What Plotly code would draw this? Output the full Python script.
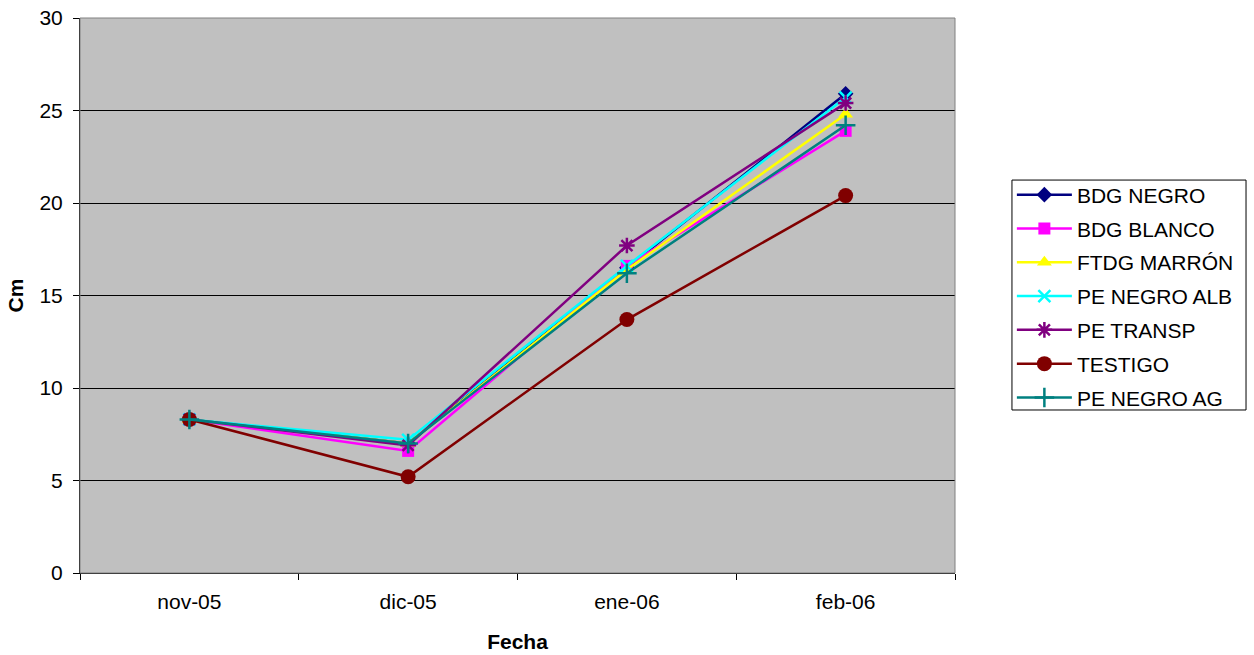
import plotly.graph_objects as go

# Monthly growth measurements (cm) per mulch treatment
fechas = ["nov-05", "dic-05", "ene-06", "feb-06"]

bdg_negro = [8.3, 7.0, 16.5, 25.9]
bdg_blanco = [8.3, 6.6, 16.6, 23.9]
ftdg_marron = [8.3, 7.0, 16.4, 24.8]
pe_negro_alb = [8.3, 7.2, 16.6, 25.7]
pe_transp = [8.3, 6.9, 17.7, 25.4]
testigo = [8.3, 5.2, 13.7, 20.4]
pe_negro_ag = [8.3, 7.0, 16.2, 24.2]

series = [
    ("BDG NEGRO", bdg_negro, "#000080", dict(symbol="diamond", size=12)),
    ("BDG BLANCO", bdg_blanco, "#FF00FF", dict(symbol="square", size=12)),
    ("FTDG MARRÓN", ftdg_marron, "#FFFF00", dict(symbol="triangle-up", size=13)),
    ("PE NEGRO ALB", pe_negro_alb, "#00FFFF", dict(symbol="x-thin", size=12, line=dict(width=2.5, color="#00FFFF"))),
    ("PE TRANSP", pe_transp, "#800080", dict(symbol="asterisk", size=13, line=dict(width=2.5, color="#800080"))),
    ("TESTIGO", testigo, "#800000", dict(symbol="circle", size=15)),
    ("PE NEGRO AG", pe_negro_ag, "#008080", dict(symbol="cross-thin", size=14, line=dict(width=2.5, color="#008080"))),
]

fig = go.Figure()
for i, (name, vals, color, marker) in enumerate(series):
    m = dict(color=color, **marker)
    fig.add_trace(go.Scatter(
        x=fechas, y=vals, name=name, mode="lines+markers",
        line=dict(color=color, width=2.5), marker=m,
        legendgroup=f"g{i}",
    ))

font = "Liberation Sans, Arial, sans-serif"
fs = 21
fig.update_layout(
    width=1254, height=655,
    margin=dict(l=80, r=299, t=18, b=82, autoexpand=False),
    paper_bgcolor="white", plot_bgcolor="#C0C0C0",
    font=dict(family=font, size=fs, color="black"),
    showlegend=True,
    legend=dict(
        x=1.065, y=0.718, xanchor="left", yanchor="top",
        borderwidth=0, bgcolor="rgba(0,0,0,0)",
        font=dict(size=fs), tracegroupgap=3.5, itemwidth=55,
    ),
    xaxis=dict(
        type="category", range=[-0.5, 3.5], tickson="boundaries",
        ticks="outside", ticklen=6, tickcolor="black", automargin=False,
        showline=True, linecolor="black", linewidth=1, mirror=False,
        showgrid=False, zeroline=False, ticklabelstandoff=10,
        title=dict(text="<b>Fecha</b>", font=dict(size=fs), standoff=22),
        tickfont=dict(size=fs),
    ),
    yaxis=dict(
        range=[0, 30], dtick=5, tick0=0, automargin=False,
        ticks="outside", ticklen=6, tickcolor="black",
        showline=True, linecolor="black", linewidth=1,
        showgrid=True, gridcolor="black", gridwidth=1, zeroline=False,
        ticklabelstandoff=6,
        title=dict(text="<b>Cm</b>", font=dict(size=fs), standoff=10),
        tickfont=dict(size=fs),
    ),
)

# Grey frame around the plotting area
fig.add_shape(type="rect", xref="paper", yref="paper", x0=0, y0=0, x1=1, y1=1,
              line=dict(color="#808080", width=1), layer="above")
# Legend box outline
fig.add_shape(type="rect", xref="paper", yref="paper",
              x0=1.0651, y0=0.2937, x1=1.3326, y1=0.708,
              line=dict(color="black", width=1), fillcolor="white", layer="below")

fig.write_html("out.html")
